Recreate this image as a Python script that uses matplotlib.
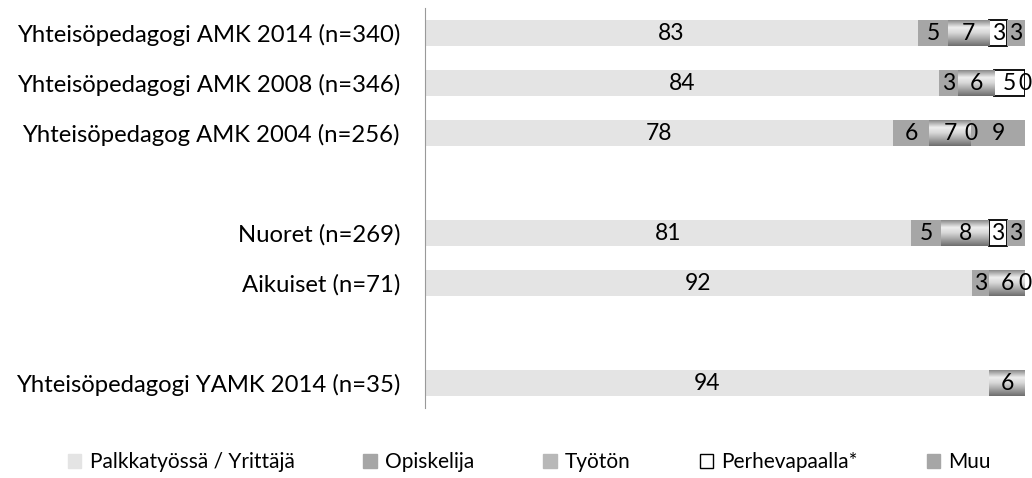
import numpy as np
import matplotlib
matplotlib.use("Agg")
import matplotlib.pyplot as plt
from matplotlib.colors import LinearSegmentedColormap
from matplotlib.patches import Patch

# DATA (percent)
categories = ["Yhteisöpedagogi AMK 2014 (n=340)",
              "Yhteisöpedagogi AMK 2008 (n=346)",
              "Yhteisöpedagog AMK 2004 (n=256)",
              "",
              "Nuoret (n=269)",
              "Aikuiset (n=71)",
              "",
              "Yhteisöpedagogi YAMK 2014 (n=35)"]
nan = np.nan
palkka     = [83, 84, 78, nan, 81, 92, nan, 94]
opiskelija = [5,  3,  6,  nan, 5,  3,  nan, nan]
tyoton     = [7,  6,  7,  nan, 8,  6,  nan, 6]
perhe      = [3,  5,  0,  nan, 3,  0,  nan, nan]
muu        = [3,  0,  9,  nan, 3,  nan, nan, nan]
series_names = ["Palkkatyössä / Yrittäjä", "Opiskelija", "Työtön", "Perhevapaalla*", "Muu"]

FONT = "Lato"
plt.rcParams['font.family'] = [FONT, 'DejaVu Sans']

series = [palkka, opiskelija, tyoton, perhe, muu]
data = np.array(series, dtype=float)
totals = np.nansum(data, axis=0)
totals[totals == 0] = 1
share = np.nan_to_num(data) / totals

fig = plt.figure(figsize=(10.32, 4.78), dpi=100)
ax = fig.add_axes([425/1032, 1 - 408/478, 600/1032, 400/478])

y = np.arange(len(categories))
h = 0.52
left = np.zeros(len(categories))
styles = [dict(color="#e4e4e4"),
          dict(color="#a6a6a6"),
          dict(color="#b8b8b8"),
          dict(facecolor="white", edgecolor="black", linewidth=1.3),
          dict(color="#a6a6a6")]

# Työtön segments have a vertical grey shading
grad = LinearSegmentedColormap.from_list(
    "g", [(0, "#8a8a8a"), (0.28, "#eeeeee"), (0.5, "#d6d6d6"), (1, "#6e6e6e")])
gimg = np.linspace(0, 1, 64).reshape(-1, 1)

for i, vals in enumerate(series):
    mask = ~np.isnan(data[i])
    bars = ax.barh(y, share[i], left=left, height=h, **styles[i])
    if i == 2:
        for b, m in zip(bars, mask):
            if not m or b.get_width() == 0:
                continue
            x0, y0 = b.get_x(), b.get_y()
            im = ax.imshow(gimg, cmap=grad, aspect="auto",
                           extent=(x0, x0 + b.get_width(), y0 + b.get_height(), y0),
                           zorder=b.get_zorder() + 0.1)
            im.set_clip_path(b)
    labels = [f"{v:.0f}" if not np.isnan(v) else "" for v in data[i]]
    ax.bar_label(bars, labels=labels, label_type="center", fontsize=16.5,
                 color="black", zorder=5)
    left = left + share[i]

ax.set_xlim(0, 1)
ax.set_ylim(len(categories) - 0.5, -0.5)
ax.set_yticks(y)
ax.set_yticklabels(categories, fontsize=17.2)
ax.tick_params(axis="y", length=0, pad=18)
ax.set_xticks([])
for s in ["top", "right", "bottom"]:
    ax.spines[s].set_visible(False)
ax.spines["left"].set_color("#999999")

handles = [Patch(**styles[0]), Patch(**styles[1]), Patch(color="#b8b8b8"),
           Patch(facecolor="white", edgecolor="black", linewidth=1.0), Patch(**styles[4])]
fig.legend(handles, series_names, loc="center", bbox_to_anchor=(0.513, 1 - 462/478),
           ncol=5, frameon=False, fontsize=15, handlelength=0.65, handleheight=0.65,
           handletextpad=0.4, columnspacing=3.3)

fig.savefig("out.png", dpi=100)
